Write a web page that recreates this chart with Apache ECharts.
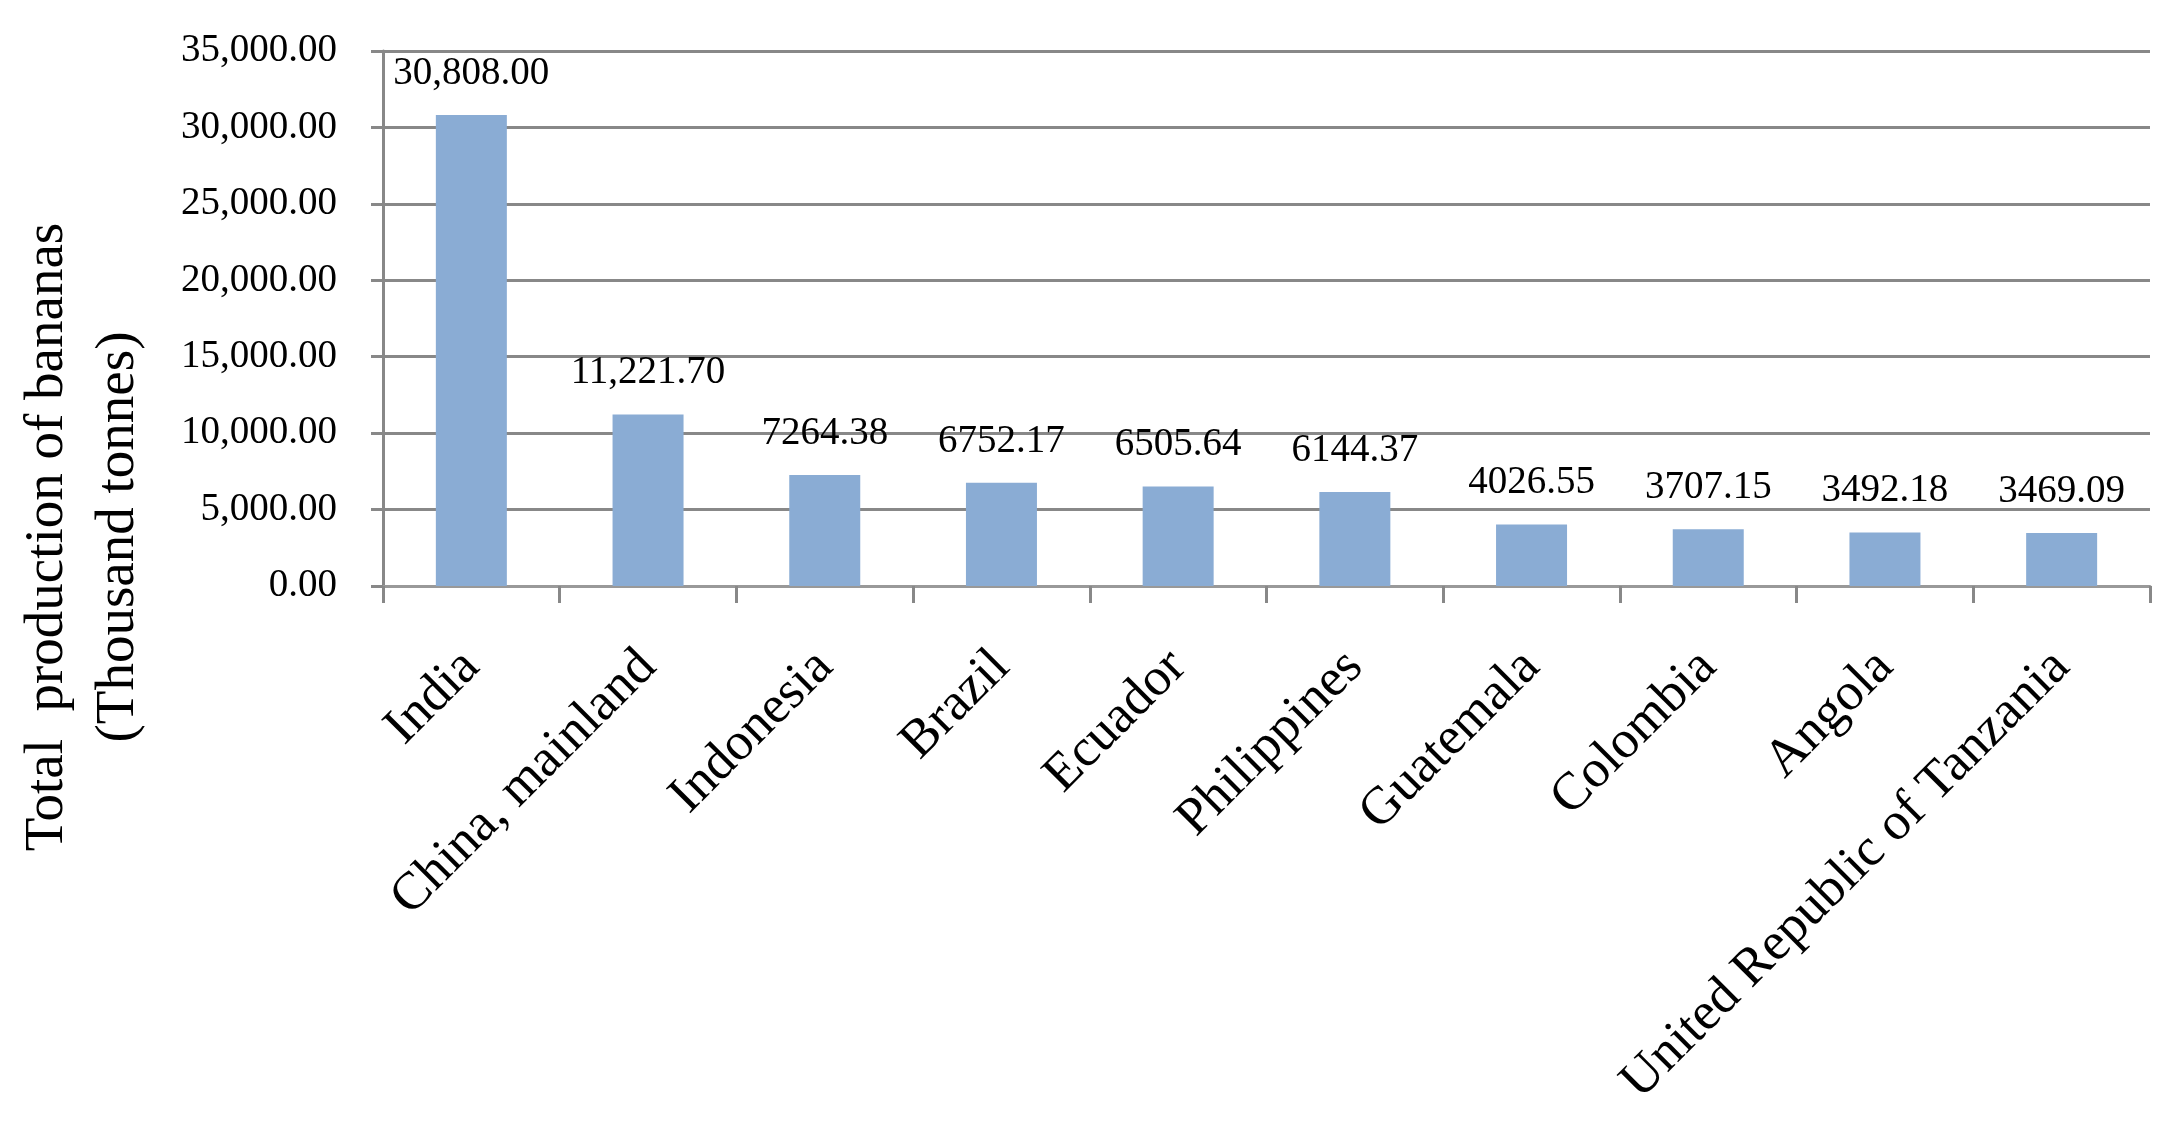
<!DOCTYPE html>
<html>
<head>
<meta charset="utf-8">
<script src="https://cdn.jsdelivr.net/npm/echarts@6/dist/echarts.min.js"></script>
<style>
html,body{margin:0;padding:0;background:#fff;}
#chart{width:2178px;height:1122px;}
</style>
</head>
<body>
<div id="chart"></div>
<script>
const categories = ["India", "China, mainland", "Indonesia", "Brazil", "Ecuador", "Philippines", "Guatemala", "Colombia", "Angola", "United Republic of Tanzania"];
const production = [30808.00, 11221.70, 7264.38, 6752.17, 6505.64, 6144.37, 4026.55, 3707.15, 3492.18, 3469.09];
const yMin = 0, yMax = 35000, yStep = 5000;
const titleLines = ["Total  production of bananas", "(Thousand tonnes)"];

function withCommas(v) {
  return v.toFixed(2).replace(/\B(?=(\d{3})+(?!\d))/g, ",");
}
function dataLabel(v) {
  return v >= 10000 ? withCommas(v) : v.toFixed(2);
}

const chart = echarts.init(document.getElementById('chart'));
chart.setOption({
  animation: false,
  backgroundColor: '#ffffff',
  grid: { left: 383, right: 28, top: 51, bottom: 536, containLabel: false },
  xAxis: {
    type: 'category',
    data: categories,
    boundaryGap: true,
    axisLine: { show: true, lineStyle: { color: '#999999', width: 3 } },
    axisTick: { show: true, length: 17, alignWithLabel: false, interval: 0, lineStyle: { color: '#888888', width: 3 } },
    axisLabel: {
      interval: 0, rotate: 45, margin: 73,
      fontFamily: 'Liberation Serif', fontSize: 53, color: '#000000'
    },
    splitLine: { show: false }
  },
  yAxis: {
    type: 'value',
    min: yMin, max: yMax, interval: yStep,
    axisLine: { show: true, lineStyle: { color: '#888888', width: 3 } },
    axisTick: { show: true, length: 12, lineStyle: { color: '#888888', width: 3 } },
    axisLabel: {
      margin: 46, fontFamily: 'Liberation Serif', fontSize: 39, color: '#000000',
      formatter: v => withCommas(v)
    },
    splitLine: { show: true, lineStyle: { color: '#888888', width: 3 } }
  },
  series: [{
    type: 'bar',
    data: production,
    barWidth: 71,
    itemStyle: { color: '#8AACD4' },
    label: {
      show: true, position: 'top', distance: 22,
      fontFamily: 'Liberation Serif', fontSize: 39, color: '#000000',
      formatter: p => dataLabel(p.value)
    }
  }],
  graphic: [{
    type: 'text',
    x: 83, y: 537,
    rotation: Math.PI / 2,
    style: {
      text: titleLines.join('\n'),
      font: '55px "Liberation Serif"',
      fill: '#000000',
      align: 'center',
      verticalAlign: 'middle',
      lineHeight: 71
    }
  }]
});
</script>
</body>
</html>
